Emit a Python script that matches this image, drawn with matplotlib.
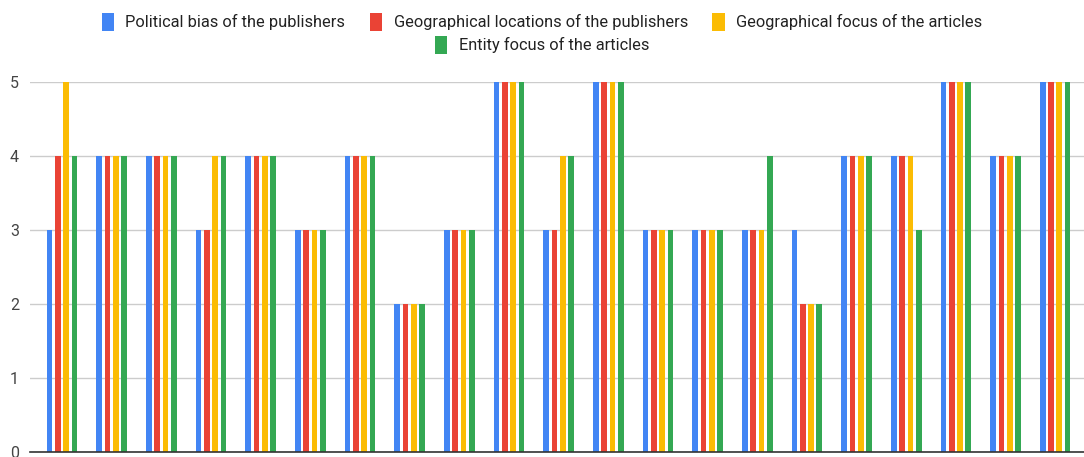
import numpy as np
import matplotlib.pyplot as plt
from matplotlib.patches import Patch

plt.rcParams['font.family'] = ['Roboto', 'DejaVu Sans']

series_names = [
    'Political bias of the publishers',
    'Geographical locations of the publishers',
    'Geographical focus of the articles',
    'Entity focus of the articles',
]
colors = ['#4285F4', '#EA4335', '#FBBC04', '#34A853']

political_bias = [3, 4, 4, 3, 4, 3, 4, 2, 3, 5, 3, 5, 3, 3, 3, 3, 4, 4, 5, 4, 5]
geo_locations = [4, 4, 4, 3, 4, 3, 4, 2, 3, 5, 3, 5, 3, 3, 3, 2, 4, 4, 5, 4, 5]
geo_focus = [5, 4, 4, 4, 4, 3, 4, 2, 3, 5, 4, 5, 3, 3, 3, 2, 4, 4, 5, 4, 5]
entity_focus = [4, 4, 4, 4, 4, 3, 4, 2, 3, 5, 4, 5, 3, 3, 4, 2, 4, 3, 5, 4, 5]

data = [political_bias, geo_locations, geo_focus, entity_focus]
x = np.arange(len(political_bias))

fig = plt.figure(figsize=(10.84, 4.57), dpi=100)
ax = fig.add_axes([30 / 1084, 1 - 452 / 457, 1 - 30 / 1084, (452 - 82) / 457])

step = 0.167
width = 0.115
for i, (vals, c) in enumerate(zip(data, colors)):
    ax.bar(x + (i - 1.5) * step, vals, width=width, color=c, zorder=3)

ax.set_xlim(-0.645, 20.58)
ax.set_ylim(0, 5)
ax.set_yticks(range(6))
ax.set_xticks([])
ax.grid(axis='y', color='#cccccc', linewidth=1, zorder=0)
for s in ['top', 'right', 'left']:
    ax.spines[s].set_visible(False)
ax.spines['bottom'].set_color('#333333')
ax.spines['bottom'].set_linewidth(1.2)
ax.spines['bottom'].set_zorder(4)
ax.tick_params(axis='y', length=0, pad=8, labelsize=11.5, labelcolor='#444444')

handles = [Patch(facecolor=c, edgecolor='none') for c in colors]
leg_kw = dict(frameon=False, fontsize=11.8, handlelength=0.75, handleheight=1.3,
              handletextpad=0.7, labelcolor='#222222')
fig.legend(handles[:3], series_names[:3], loc='center', ncol=3,
           bbox_to_anchor=(0.5, 1 - 22 / 457), columnspacing=1.5, **leg_kw)
fig.legend(handles[3:], series_names[3:], loc='center', ncol=1,
           bbox_to_anchor=(0.5, 1 - 45 / 457), **leg_kw)

fig.savefig('out.png', dpi=100)
